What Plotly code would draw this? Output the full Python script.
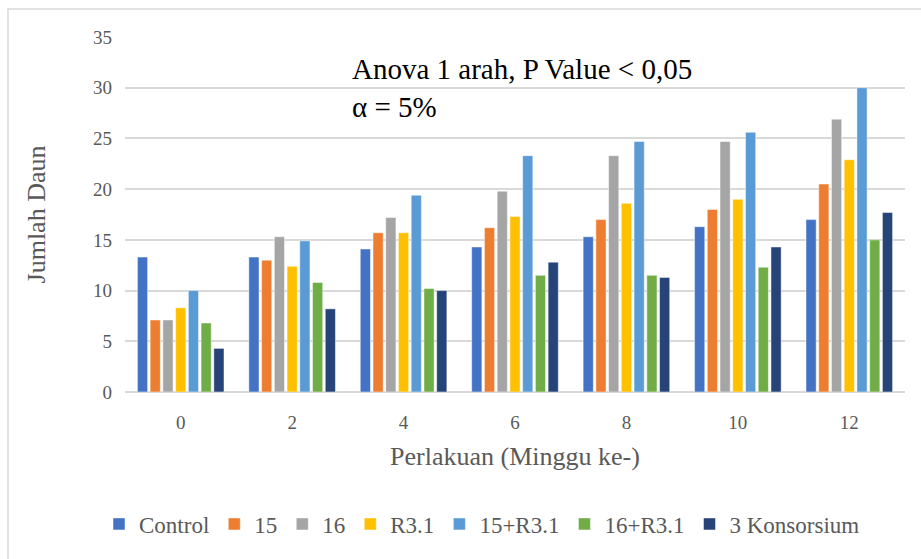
import plotly.graph_objects as go

weeks = ["0", "2", "4", "6", "8", "10", "12"]
series_names = ["Control", "15", "16", "R3.1", "15+R3.1", "16+R3.1", "3 Konsorsium"]
control = [13.3, 13.3, 14.1, 14.3, 15.3, 16.3, 17.0]
s15 = [7.1, 13.0, 15.7, 16.2, 17.0, 18.0, 20.5]
s16 = [7.1, 15.3, 17.2, 19.8, 23.3, 24.7, 26.9]
r31 = [8.3, 12.4, 15.7, 17.3, 18.6, 19.0, 22.9]
s15r31 = [10.0, 14.9, 19.4, 23.3, 24.7, 25.6, 30.0]
s16r31 = [6.8, 10.8, 10.2, 11.5, 11.5, 12.3, 15.0]
konsorsium = [4.3, 8.2, 10.0, 12.8, 11.3, 14.3, 17.7]
y_ticks = [0, 5, 10, 15, 20, 25, 30, 35]

colors = ["#4472C4", "#ED7D31", "#A5A5A5", "#FFC000", "#5B9BD5", "#70AD47", "#264478"]
all_series = [control, s15, s16, r31, s15r31, s16r31, konsorsium]

FONT = "Liberation Serif"
GRAY = "#595959"

fig = go.Figure()
for name, vals, col in zip(series_names, all_series, colors):
    fig.add_trace(go.Bar(x=weeks, y=vals, name=name,
                         marker=dict(color=col, line=dict(color="rgba(255,255,255,0.6)", width=0.8))))

fig.update_layout(
    width=921, height=559,
    margin=dict(l=125, r=16, t=37, b=167),
    paper_bgcolor="white", plot_bgcolor="white",
    barmode="group", bargap=0.2, bargroupgap=0.2,
    font=dict(family=FONT, color=GRAY, size=19),
    showlegend=True,
    legend=dict(orientation="h", x=(99 - 125) / 780, xref="paper", xanchor="left",
                y=(392 - 524) / 355, yanchor="middle",
                font=dict(family=FONT, size=23, color=GRAY), traceorder="normal",
                itemwidth=30, borderwidth=0, bgcolor="rgba(0,0,0,0)"),
    xaxis=dict(type="category", showgrid=False, showline=False, ticks="", ticklabelstandoff=17,
               title=dict(text="Perlakuan (Minggu ke-)", font=dict(family=FONT, size=26, color=GRAY), standoff=14),
               tickfont=dict(family=FONT, size=19, color=GRAY)),
    yaxis=dict(range=[0, 35], tickvals=y_ticks, showgrid=True, gridcolor="#D9D9D9", gridwidth=1.5,
               zeroline=True, zerolinecolor="#D9D9D9", zerolinewidth=1.5, showline=False, ticks="",
               ticklabelstandoff=12,
               title=dict(text="Jumlah Daun", font=dict(family=FONT, size=26, color=GRAY), standoff=39),
               tickfont=dict(family=FONT, size=19, color=GRAY)),
)

fig.add_annotation(text="Anova 1 arah, P Value < 0,05", xref="paper", yref="paper",
                   x=(350 - 125) / 780, y=(392 - 69) / 355, xanchor="left", yanchor="middle",
                   showarrow=False, font=dict(family=FONT, size=29, color="black"))
fig.add_annotation(text="α = 5%", xref="paper", yref="paper",
                   x=(350 - 125) / 780, y=(392 - 107) / 355, xanchor="left", yanchor="middle",
                   showarrow=False, font=dict(family=FONT, size=29, color="black"))

fig.add_shape(type="rect", xref="paper", yref="paper",
              x0=(8 - 125) / 780, x1=1.5, y0=-1.0, y1=(392 - 9) / 355,
              line=dict(color="#D9D9D9", width=1.5), fillcolor="rgba(0,0,0,0)", layer="below")

fig.write_html("out.html")
